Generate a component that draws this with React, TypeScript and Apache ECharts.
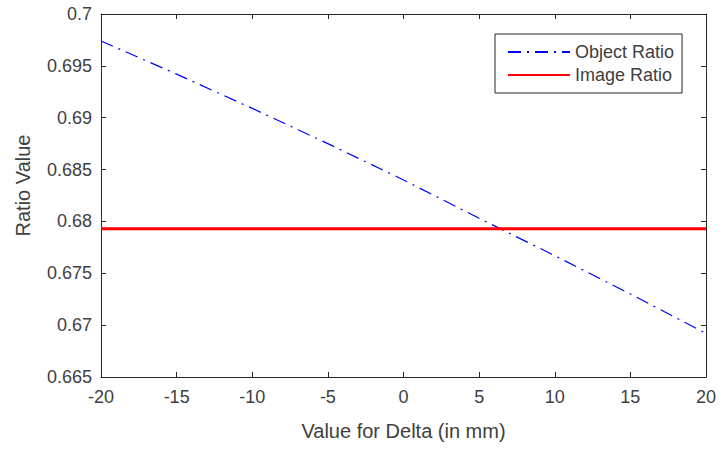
import React, { useEffect, useRef } from "react";
import * as echarts from "echarts";

const deltaValues = [-20, -15, -10, -5, 0, 5, 10, 15, 20];
const objectRatio = [0.6974, 0.6942, 0.6909, 0.6875, 0.684, 0.6803, 0.6767, 0.673, 0.6692];
const imageRatio = [0.6793, 0.6793, 0.6793, 0.6793, 0.6793, 0.6793, 0.6793, 0.6793, 0.6793];
const seriesNames = ["Object Ratio", "Image Ratio"];

const FONT = "'Liberation Sans', Arial, Helvetica, sans-serif";
const AX = "#262626";
const TXT = "#404040";

export default function App() {
  const ref = useRef<HTMLDivElement>(null);
  useEffect(() => {
    if (!ref.current) return;
    const chart = echarts.init(ref.current, undefined, { renderer: "svg" });
    const fmtY = (v: number) => String(parseFloat(v.toFixed(3)));
    const baseX = {
      type: "value" as const,
      min: -20,
      max: 20,
      interval: 5,
      axisLine: { show: true, onZero: false, lineStyle: { color: AX, width: 1 } },
      axisTick: { show: true, inside: true, length: 5, lineStyle: { color: AX } },
      splitLine: { show: false },
    };
    const baseY = {
      type: "value" as const,
      min: 0.665,
      max: 0.7,
      interval: 0.005,
      axisLine: { show: true, onZero: false, lineStyle: { color: AX, width: 1 } },
      axisTick: { show: true, inside: true, length: 5, lineStyle: { color: AX } },
      splitLine: { show: false },
    };
    chart.setOption({
      animation: false,
      backgroundColor: "#ffffff",
      textStyle: { fontFamily: FONT },
      grid: { left: 101, right: 17, top: 14, bottom: 72, containLabel: false },
      legend: {
        orient: "vertical",
        left: 495,
        top: 34,
        data: seriesNames,
        backgroundColor: "#ffffff",
        borderColor: AX,
        borderWidth: 1,
        borderRadius: 0,
        padding: [9, 8, 9, 12],
        itemWidth: 62,
        itemHeight: 18,
        itemGap: 5,
        itemTextGap: 8,
        itemStyle: { opacity: 0, borderWidth: 0 },
        textStyle: { fontSize: 18, color: TXT, fontFamily: FONT },
      },
      xAxis: [
        {
          ...baseX,
          position: "bottom",
          name: "Value for Delta (in mm)",
          nameLocation: "middle",
          nameGap: 44,
          nameTextStyle: { fontSize: 20, color: TXT, fontFamily: FONT },
          axisLabel: { show: true, margin: 11, fontSize: 18, color: TXT, fontFamily: FONT },
        },
        { ...baseX, position: "top", axisLabel: { show: false } },
      ],
      yAxis: [
        {
          ...baseY,
          position: "left",
          name: "Ratio Value",
          nameLocation: "middle",
          nameGap: 68,
          nameTextStyle: { fontSize: 20, color: TXT, fontFamily: FONT, padding: [0, 0, 0, 20] },
          axisLabel: { show: true, margin: 9, fontSize: 18, color: TXT, fontFamily: FONT, formatter: fmtY },
        },
        { ...baseY, position: "right", axisLabel: { show: false } },
      ],
      series: [
        {
          name: seriesNames[0],
          type: "line",
          xAxisIndex: 0,
          yAxisIndex: 0,
          symbol: "none",
          data: deltaValues.map((x, i) => [x, objectRatio[i]]),
          lineStyle: { color: "#0000ff", width: 1.2, type: [13, 6, 2, 6] },
          itemStyle: { color: "#0000ff" },
        },
        {
          name: seriesNames[1],
          type: "line",
          xAxisIndex: 0,
          yAxisIndex: 0,
          symbol: "none",
          data: deltaValues.map((x, i) => [x, imageRatio[i]]),
          lineStyle: { color: "#ff0000", width: 3 },
          itemStyle: { color: "#ff0000" },
        },
      ],
    });
    return () => chart.dispose();
  }, []);
  return (
    <div
      ref={ref}
      style={{ position: "fixed", left: 0, top: 0, width: 723, height: 449, background: "#fff" }}
    />
  );
}
